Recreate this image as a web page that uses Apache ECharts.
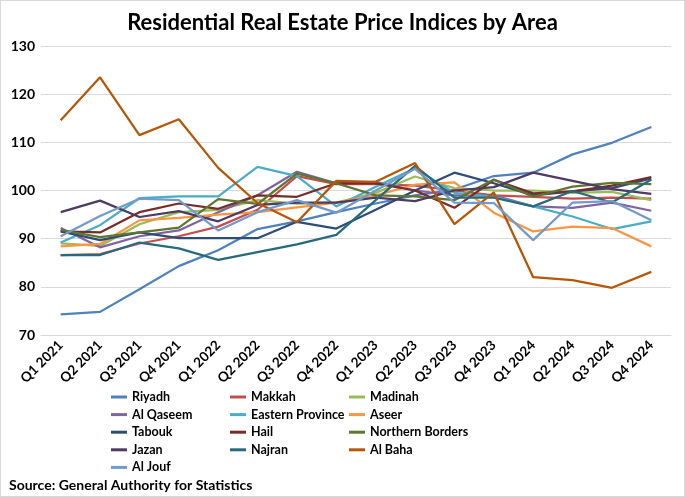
<!DOCTYPE html>
<html>
<head>
<meta charset="utf-8">
<script src="https://cdn.jsdelivr.net/npm/echarts@6/dist/echarts.min.js"></script>
<style>
html,body{margin:0;padding:0;background:#fff;}
#chart{width:685px;height:497px;box-sizing:border-box;border:1px solid #d9d9d9;}
</style>
</head>
<body>
<div id="chart"></div>
<script>
const categories = ['Q1 2021','Q2 2021','Q3 2021','Q4 2021','Q1 2022','Q2 2022','Q3 2022','Q4 2022','Q1 2023','Q2 2023','Q3 2023','Q4 2023','Q1 2024','Q2 2024','Q3 2024','Q4 2024'];
const yTicks = [70, 80, 90, 100, 110, 120, 130];

const riyadh          = [74.3, 74.8, 79.5, 84.3, 87.6, 92.0, 93.6, 95.5, 97.3, 99.0, 100.2, 103.0, 103.7, 107.5, 109.9, 113.2];
const makkah          = [86.6, 86.8, 89.0, 90.5, 92.5, 96.0, 103.0, 101.3, 101.3, 101.0, 100.0, 99.0, 98.7, 98.3, 98.5, 98.3];
const madinah         = [89.0, 88.5, 93.0, 95.5, 96.0, 98.0, 97.3, 97.5, 99.5, 102.9, 100.5, 100.0, 100.0, 99.5, 99.7, 98.0];
const alQaseem        = [92.2, 88.2, 90.5, 91.7, 95.5, 99.0, 103.9, 101.5, 101.8, 100.0, 99.0, 99.0, 96.7, 96.4, 97.5, 95.8];
const easternProvince = [89.2, 92.8, 98.4, 98.8, 98.8, 104.9, 103.0, 96.7, 100.8, 104.6, 99.5, 98.7, 96.7, 94.6, 92.0, 93.6];
const aseer           = [88.4, 88.9, 93.8, 94.3, 95.0, 95.5, 96.5, 97.5, 99.0, 101.2, 101.7, 95.4, 91.5, 92.5, 92.2, 88.4];
const tabouk          = [91.5, 89.7, 91.3, 90.1, 90.1, 90.1, 93.5, 92.1, 96.0, 100.0, 103.7, 101.5, 99.0, 99.8, 100.5, 102.5];
const hail            = [91.5, 91.3, 95.5, 97.3, 96.2, 99.0, 98.7, 101.5, 101.5, 100.0, 96.4, 102.2, 99.4, 99.8, 101.0, 102.8];
const northernBorders = [91.8, 90.3, 91.3, 92.3, 98.2, 97.2, 103.5, 101.5, 99.0, 98.8, 98.0, 102.3, 98.7, 100.8, 101.6, 101.3];
const jazan           = [95.5, 97.9, 94.5, 95.7, 93.6, 97.0, 97.5, 97.5, 98.5, 97.8, 100.0, 100.7, 103.7, 102.0, 100.3, 99.3];
const najran          = [86.6, 86.6, 89.2, 88.0, 85.6, 87.2, 88.8, 90.8, 98.0, 105.1, 98.5, 98.5, 96.7, 99.9, 97.5, 102.3];
const alBaha          = [114.6, 123.5, 111.5, 114.8, 104.7, 97.4, 93.4, 102.0, 101.8, 105.7, 93.0, 99.6, 82.0, 81.4, 79.8, 83.1];
const alJouf          = [90.5, 94.7, 98.3, 98.0, 91.7, 95.5, 98.0, 95.4, 100.0, 104.5, 97.5, 97.4, 89.7, 97.5, 97.8, 93.8];

const seriesNames = ['Riyadh','Makkah','Madinah','Al Qaseem','Eastern Province','Aseer','Tabouk','Hail','Northern Borders','Jazan','Najran','Al Baha','Al Jouf'];
const seriesData = [riyadh, makkah, madinah, alQaseem, easternProvince, aseer, tabouk, hail, northernBorders, jazan, najran, alBaha, alJouf];
const colors = ['#4F81BD','#C0504D','#9BBB59','#8064A2','#4BACC6','#F79646','#2C4D75','#772C2A','#5F7530','#4D3B62','#276A7C','#B65708','#729ACA'];

const FONT = 'Lato';
const legendCommon = {
  orient: 'vertical', top: 384, itemWidth: 16, itemHeight: 3, itemGap: 3.6, icon: 'rect',
  textStyle: {fontFamily: FONT, fontWeight: 'bold', fontSize: 12.5, color: '#000', lineHeight: 14}
};

const chart = echarts.init(document.getElementById('chart'));
chart.setOption({
  animation: false,
  color: colors,
  title: {
    text: 'Residential Real Estate Price Indices by Area',
    left: 'center', top: 6,
    textStyle: {fontFamily: FONT, fontWeight: 'bold', fontSize: 22, color: '#000'}
  },
  graphic: [{
    type: 'text', left: 8, top: 477,
    style: {text: 'Source: General Authority for Statistics', font: 'bold 14px Lato', fill: '#000'}
  }],
  legend: [
    Object.assign({left: 105, data: ['Riyadh','Al Qaseem','Tabouk','Jazan','Al Jouf']}, legendCommon),
    Object.assign({left: 224, data: ['Makkah','Eastern Province','Hail','Najran']}, legendCommon),
    Object.assign({left: 343, data: ['Madinah','Aseer','Northern Borders','Al Baha']}, legendCommon)
  ],
  grid: {left: 40, right: 13, top: 45, bottom: 161},
  xAxis: {
    type: 'category', data: categories, boundaryGap: true,
    axisLine: {show: true, lineStyle: {color: '#d9d9d9'}},
    axisTick: {show: false},
    axisLabel: {rotate: 45, color: '#000', fontFamily: FONT, fontWeight: 'bold', fontSize: 13.5, margin: 8, interval: 0}
  },
  yAxis: {
    type: 'value', min: yTicks[0], max: yTicks[yTicks.length - 1], interval: 10,
    axisLine: {show: false}, axisTick: {show: false},
    splitLine: {lineStyle: {color: '#d9d9d9', width: 1}},
    axisLabel: {color: '#000', fontFamily: FONT, fontWeight: 'bold', fontSize: 14, margin: 6}
  },
  series: seriesNames.map((n, i) => ({
    name: n, type: 'line', data: seriesData[i], showSymbol: false, symbol: 'none',
    lineStyle: {width: 2.25, color: colors[i]}, itemStyle: {color: colors[i]}
  }))
});
</script>
</body>
</html>
